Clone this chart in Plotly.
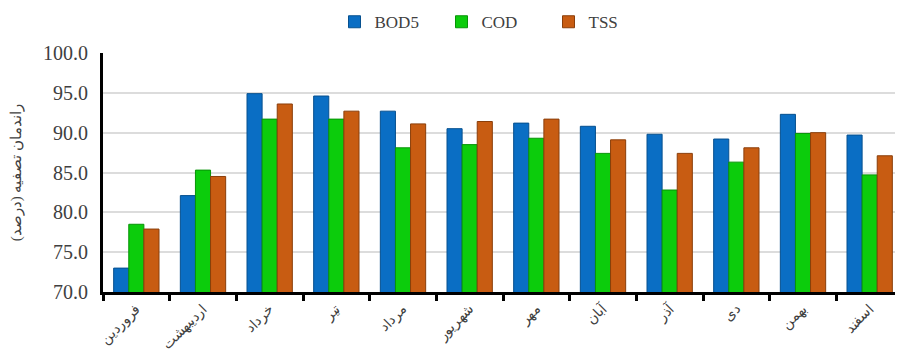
import plotly.graph_objects as go

months = ["فروردین", "اردیبهشت", "خرداد", "تیر", "مرداد", "شهریور",
          "مهر", "آبان", "آذر", "دی", "بهمن", "اسفند"]
bod5 = [73.0, 82.1, 94.9, 94.6, 92.7, 90.5, 91.2, 90.8, 89.8, 89.2, 92.3, 89.7]
cod = [78.5, 85.3, 91.7, 91.7, 88.1, 88.5, 89.3, 87.4, 82.8, 86.3, 89.9, 84.7]
tss = [77.9, 84.5, 93.6, 92.7, 91.1, 91.4, 91.7, 89.1, 87.4, 88.1, 90.0, 87.1]
y_ticks = [70, 75, 80, 85, 90, 95, 100]

serif = "Liberation Serif, Times New Roman, DejaVu Serif, serif"

fig = go.Figure()
for name, vals, col, edge in [("BOD5", bod5, "#0a6ec4", "#06508f"),
                              ("COD", cod, "#0ccc0c", "#079407"),
                              ("TSS", tss, "#c85c12", "#8a3e0a")]:
    fig.add_trace(go.Bar(name=name, x=months, y=vals,
                         marker=dict(color=col, line=dict(color=edge, width=1))))

fig.update_layout(
    width=903, height=355,
    margin=dict(l=95, r=8, t=45, b=71),
    paper_bgcolor="white", plot_bgcolor="white",
    barmode="group", bargap=0.32, bargroupgap=0,
    showlegend=True,
    legend=dict(orientation="h", x=0.49, xanchor="center",
                yref="container", y=0.96, yanchor="middle",
                font=dict(family=serif, size=17, color="#404040"),
                entrywidth=62, entrywidthmode="pixels", itemwidth=30),
    font=dict(family=serif, color="#404040"),
)
fig.update_yaxes(range=[70, 100], tickvals=y_ticks, ticktext=[f"{v:.1f}" for v in y_ticks],
                 tickfont=dict(family=serif, size=20, color="#404040"),
                 ticklabelstandoff=8,
                 showgrid=True, gridcolor="#dcdcdc", gridwidth=2,
                 showline=True, linecolor="black", linewidth=3, ticks="",
                 zeroline=False, automargin=False,
                 title=dict(text="راندمان تصفیه (درصد)", font=dict(family=serif, size=15, color="#404040"),
                            standoff=30))
fig.update_xaxes(showline=True, linecolor="black", linewidth=3,
                 ticks="outside", tickson="boundaries", ticklen=6, tickwidth=3, tickcolor="black",
                 tickangle=-45, tickfont=dict(family=serif, size=14, color="#404040"),
                 automargin=False, showgrid=False)
fig.add_annotation(text="ماه", xref="paper", yref="paper", x=0.47, y=-0.25, yanchor="top",
                   showarrow=False, font=dict(family=serif, size=17, color="#404040"))

fig.write_html("out.html")
